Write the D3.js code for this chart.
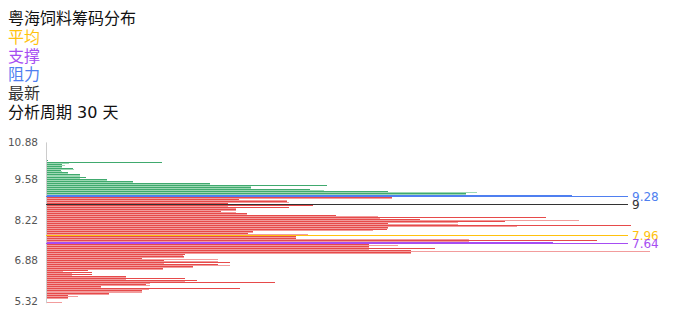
<!DOCTYPE html>
<html>
<head>
<meta charset="utf-8">
<script src="https://cdn.jsdelivr.net/npm/d3@7"></script>
<style>
  body { margin: 0; background: #fff; }
  text { font-family: "DejaVu Sans", "Noto Sans CJK SC", sans-serif; }
</style>
</head>
<body>
<svg width="696" height="320"></svg>
<script>
// header texts
const title = "粤海饲料筹码分布";
const legendNames = ["平均", "支撑", "阻力", "最新"];
const periodText = "分析周期 30 天";

// price buckets, bottom (0) to top (78); only some carry a label
const bucketCount = 79;
const tickIdx = [0, 20, 40, 60, 78];
const tickLabels = ["5.32", "6.88", "8.22", "9.58", "10.88"];

// chip volume per bucket (relative, 100 = largest), two series
const recent = [
  0.1, 0.2, 3.6, 3.6, 10.4, 15.9, 32.1, 9.1, 16.6, 37.9,
  25.0, 23.0, 13.2, 7.6, 7.6, 7.0, 19.4, 24.3, 28.5, 30.5,
  19.5, 15.9, 22.8, 23.0, 60.4, 60.4, 64.4, 53.5, 53.5, 83.9,
  91.2, 41.4, 41.4, 33.4, 34.3, 56.5, 56.6, 96.9, 56.6, 76.0,
  61.9, 82.8, 48.0, 33.3, 29.0, 31.5, 40.2, 44.2, 30.1, 39.9,
  32.0, 57.3, 87.1, 69.5, 56.6, 43.7, 33.9, 46.5, 27.2, 14.4,
  10.1, 6.6, 5.6, 3.6, 2.5, 4.5, 2.6, 2.6, 19.2, 0.3,
  0.1, 0, 0, 0, 0, 0, 0, 0, 0
];
const earlier = [
  2.6, 0.1, 3.6, 5.3, 10.4, 15.9, 17.1, 9.1, 17.2, 17.2,
  23.0, 13.2, 13.2, 4.3, 4.3, 2.8, 19.4, 24.3, 30.5, 19.5,
  28.5, 28.5, 22.8, 22.7, 60.4, 100, 53.5, 53.5, 58.3, 70.0,
  70.0, 70.0, 41.4, 43.4, 34.3, 54.1, 56.6, 78.0, 68.2, 68.2,
  88.2, 55.3, 55.0, 33.3, 31.5, 31.5, 31.5, 30.1, 30.1, 40.2,
  39.9, 57.3, 87.1, 69.5, 71.4, 46.0, 33.9, 33.9, 27.2, 14.4,
  10.1, 5.6, 5.6, 3.6, 2.6, 4.6, 2.6, 3.1, 3.8, 0.2,
  0.1, 0, 0, 0, 0, 0, 0, 0, 0
];

// reference lines: average, support, resistance, latest
const markKeys = ["avg", "support", "resist", "last"];
const markLabels = ["7.96", "7.64", "9.28", "9"];
const markIdx = [33, 29, 52, 48];

const colors = {
  avg: "#ffc20e", support: "#a64df2", resist: "#4f7ff0", last: "#333333",
  upDark: "#40a96e", upLight: "#9dd8b4",
  downDark: "#e64a4a", downLight: "#f29c9c",
  axis: "#cccccc", tick: "#555555"
};

const svg = d3.select("svg");
const x = d3.scaleLinear().domain([0, 100]).range([46, 650]);
const y = d3.scaleBand()
  .domain(d3.range(bucketCount))
  .range([302.7, 141.9]);
const bw = y.bandwidth();

const resistIdx = markIdx[markKeys.indexOf("resist")];
const supportIdx = markIdx[markKeys.indexOf("support")];

function barColor(i, dark) {
  if (i === resistIdx) return dark ? colors.resist : "#8fb0f5";
  if (i === supportIdx) return dark ? colors.support : "#c99af5";
  if (i > resistIdx) return dark ? colors.upDark : colors.upLight;
  return dark ? colors.downDark : colors.downLight;
}

// header
svg.append("text").attr("x", 8).attr("y", 18).attr("dy", "0.35em")
  .attr("font-size", 16).attr("fill", "#111").text(title);
svg.selectAll(".legend")
  .data(legendNames)
  .enter()
  .append("text")
  .attr("class", "legend")
  .attr("x", 8)
  .attr("y", (d, i) => 37 + i * 18.9)
  .attr("dy", "0.35em")
  .attr("font-size", 16)
  .attr("fill", (d, i) => colors[markKeys[i]])
  .text((d) => d);
svg.append("text").attr("x", 8).attr("y", 112.5).attr("dy", "0.35em")
  .attr("font-size", 16).attr("fill", "#111").text(periodText);

// bars: 1px darker row on top of each bucket, lighter row(s) under it
const rowTop = (i) => Math.round(y(i));
const rowEnd = (i) => Math.round(y(i) + bw);
const bars = svg.append("g").attr("shape-rendering", "crispEdges");
bars.selectAll(".light")
  .data(earlier)
  .enter()
  .append("rect")
  .attr("class", "light")
  .attr("x", x(0))
  .attr("y", (d, i) => rowTop(i) + 1)
  .attr("width", (d) => x(d) - x(0))
  .attr("height", (d, i) => Math.max(1, rowEnd(i) - rowTop(i) - 1))
  .attr("fill", (d, i) => barColor(i, false));
bars.selectAll(".dark")
  .data(recent)
  .enter()
  .append("rect")
  .attr("class", "dark")
  .attr("x", x(0))
  .attr("y", (d, i) => rowTop(i))
  .attr("width", (d) => x(d) - x(0))
  .attr("height", 1)
  .attr("fill", (d, i) => barColor(i, true));

// y axis
const yAxis = d3.axisLeft(y)
  .tickValues(tickIdx)
  .tickFormat((d) => tickLabels[tickIdx.indexOf(d)])
  .tickSize(0)
  .tickPadding(8);
const ax = svg.append("g").attr("transform", `translate(${x(0)},0)`).call(yAxis);
ax.select(".domain").attr("stroke", colors.axis);
ax.selectAll("text").attr("font-size", 10.5).attr("fill", colors.tick)
  .style("font-family", "'DejaVu Sans', sans-serif");

// reference lines with labels
const marks = svg.append("g");
markKeys.forEach((k, i) => {
  const yy = Math.round(y(markIdx[i]) + bw / 2) + 0.5;
  marks.append("line")
    .attr("x1", x(0)).attr("x2", 628)
    .attr("y1", yy).attr("y2", yy)
    .attr("stroke", colors[k]).attr("stroke-width", 1);
  marks.append("text")
    .attr("x", 632).attr("y", yy).attr("dy", "0.35em")
    .attr("font-size", 12)
    .attr("fill", colors[k])
    .style("font-family", "'DejaVu Sans', sans-serif")
    .text(markLabels[i]);
});
</script>
</body>
</html>
